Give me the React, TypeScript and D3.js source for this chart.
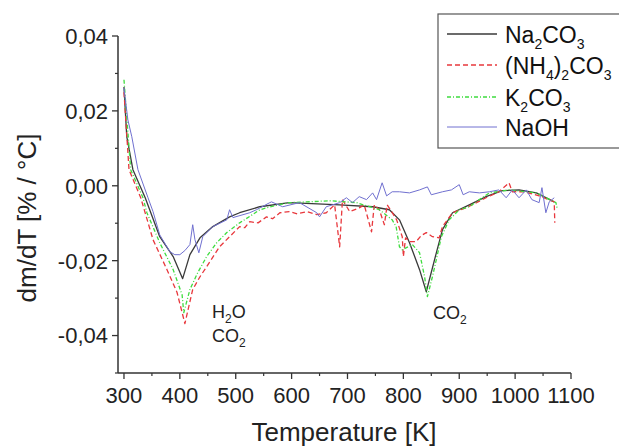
import React from "react";
import * as d3 from "d3";

const xTicks = [300, 400, 500, 600, 700, 800, 900, 1000, 1100];
const yTicks = [-0.04, -0.02, 0.0, 0.02, 0.04];
const yTickLabels = ["-0,04", "-0,02", "0,00", "0,02", "0,04"];
const seriesNames = ["Na2CO3", "(NH4)2CO3", "K2CO3", "NaOH"];
const seriesColors = ["#3a3a3a", "#e8383d", "#3fdc3f", "#7070d0"];

const na2co3: [number, number][] = [
  [300, 0.0264], [305, 0.0131], [316, 0.0043], [338, -0.0032], [364, -0.0136], [388, -0.0189],
  [405, -0.0248], [418, -0.0184], [436, -0.0139], [459, -0.0109], [489, -0.0083], [507, -0.0072],
  [543, -0.0056], [596, -0.0045], [686, -0.0051], [745, -0.0056], [775, -0.0064], [793, -0.0091],
  [811, -0.0152], [829, -0.0224], [841, -0.0283], [859, -0.0179], [870, -0.0117], [888, -0.0072],
  [918, -0.0051], [948, -0.0029], [977, -0.0013], [1007, -0.0011], [1038, -0.0019], [1070, -0.0043],
];

const nh4co3: [number, number][] = [
  [300, 0.025], [309, 0.0043], [330, -0.0032], [352, -0.0144], [377, -0.0224], [395, -0.0285],
  [409, -0.0368], [423, -0.0277], [436, -0.0243], [448, -0.0216], [471, -0.0163], [489, -0.0136],
  [507, -0.0109], [516, -0.0112], [525, -0.0096], [540, -0.0099], [555, -0.0083], [566, -0.0088],
  [579, -0.0072], [596, -0.0069], [610, -0.0075], [627, -0.0069], [645, -0.0077],
  [662, -0.0072], [677, -0.0051], [686, -0.0163], [691, -0.0037], [704, -0.0069], [721, -0.0059],
  [730, -0.0051], [743, -0.0123], [748, -0.0051], [757, -0.0064], [766, -0.0104], [771, -0.0051],
  [779, -0.0069], [788, -0.0091], [798, -0.0136], [800, -0.0189], [804, -0.0139], [811, -0.0149],
  [823, -0.0149], [832, -0.0133], [841, -0.0125], [852, -0.0136], [864, -0.0139], [870, -0.0109],
  [888, -0.0072], [912, -0.0059], [948, -0.0032], [971, -0.0016], [989, 0.0008], [995, -0.0016],
  [1016, -0.0016], [1043, -0.0027], [1070, -0.0043], [1071, -0.0099],
];

const k2co3: [number, number][] = [
  [300, 0.0283], [312, 0.0043], [334, -0.0032], [341, -0.0072], [364, -0.0152], [388, -0.0224],
  [404, -0.0291], [407, -0.0339], [418, -0.0277], [432, -0.0232], [448, -0.0189], [466, -0.0152],
  [484, -0.0125], [507, -0.0099], [530, -0.0077], [543, -0.0064], [570, -0.0053], [596, -0.0045],
  [627, -0.0043], [668, -0.004], [716, -0.0045], [757, -0.0064], [780, -0.0091], [787, -0.0109],
  [793, -0.0163], [798, -0.0171], [816, -0.0157], [829, -0.0179], [838, -0.0243], [843, -0.0296],
  [852, -0.0243], [859, -0.0197], [868, -0.0136], [882, -0.0091], [900, -0.0064], [918, -0.0056],
  [936, -0.0037], [954, -0.0019], [989, -0.0011], [1038, -0.0019], [1073, -0.0045], [1075, -0.0059],
];

const naoh: [number, number][] = [
  [300, 0.0261], [307, 0.0176], [314, 0.0131], [325, 0.0043], [343, -0.0032], [352, -0.0069],
  [364, -0.0131], [382, -0.0176], [391, -0.0184], [400, -0.0184], [409, -0.0173], [418, -0.0157],
  [423, -0.0104], [427, -0.0144], [434, -0.0179], [441, -0.0136], [459, -0.0109], [484, -0.0091],
  [489, -0.0064], [495, -0.0085], [525, -0.0072], [537, -0.0064], [561, -0.0045], [564, -0.0043],
  [584, -0.0056], [614, -0.0045], [645, -0.0072], [650, -0.0083], [662, -0.0056], [686, -0.0045],
  [698, -0.0032], [709, -0.0045], [721, -0.0029], [734, -0.0037], [745, -0.0019], [752, -0.0037],
  [762, 0.0008], [770, -0.0027], [780, -0.0016], [793, -0.0016], [811, -0.0019], [829, -0.0011],
  [843, -0.0003], [850, -0.0024], [870, -0.0016], [886, -0.0011], [900, 0.0003], [907, -0.0024],
  [918, -0.0016], [936, -0.0019], [954, -0.0016], [971, -0.0011], [984, -0.0032], [995, -0.0011],
  [1007, -0.0032], [1020, -0.0011], [1030, -0.0037], [1043, -0.0045], [1048, -0.0005], [1055, -0.0072],
  [1061, -0.0043], [1070, -0.0032],
];

const allSeries = [na2co3, nh4co3, k2co3, naoh];
const dashes = ["none", "5,3", "4,2,1,2", "none"];
const widths = [1.3, 1.3, 1.3, 1.0];

function Formula({ text, subSize, shift }: { text: string; subSize: number; shift: number }) {
  const parts: { t: string; sub: boolean }[] = [];
  for (const ch of text) {
    const sub = /[0-9]/.test(ch);
    const last = parts[parts.length - 1];
    if (last && last.sub === sub) last.t += ch;
    else parts.push({ t: ch, sub });
  }
  const out: React.ReactNode[] = [];
  let down = false;
  parts.forEach((p, i) => {
    let dy = 0;
    if (p.sub && !down) { dy = shift; down = true; }
    else if (!p.sub && down) { dy = -shift; down = false; }
    out.push(
      <tspan key={i} dy={dy} fontSize={p.sub ? subSize : undefined}>{p.t}</tspan>
    );
  });
  return <>{out}</>;
}

export default function App() {
  const x = d3.scaleLinear().domain([289.3, 1100]).range([118, 571]);
  const y = d3.scaleLinear().domain([-0.05, 0.04]).range([373, 36]);
  const line = d3.line<[number, number]>().x((d) => x(d[0])).y((d) => y(d[1]));
  const xMinor = d3.range(350, 1100, 100);
  const yMinor = [-0.05, -0.03, -0.01, 0.01, 0.03];
  const font = "Arial, 'Liberation Sans', Helvetica, sans-serif";
  const axisColor = "#333";
  const legendRows = [34, 65, 97, 127];

  return (
    <svg width={619} height={447} style={{ position: "absolute", left: 0, top: 0 }} fontFamily={font}>
      <rect width={619} height={447} fill="#fff" />
      {allSeries.map((s, i) => (
        <path key={i} d={line(s) || ""} fill="none" stroke={seriesColors[i]}
          strokeWidth={widths[i]} strokeDasharray={dashes[i]} strokeLinejoin="round" />
      ))}
      <line x1={118} x2={118} y1={36} y2={373} stroke={axisColor} strokeWidth={1.5} />
      <line x1={118} x2={571} y1={373} y2={373} stroke={axisColor} strokeWidth={1.5} />
      {yTicks.map((t, i) => (
        <g key={t}>
          <line x1={112} x2={118} y1={y(t)} y2={y(t)} stroke={axisColor} strokeWidth={1.3} />
          <text x={108} y={y(t)} dy="0.36em" textAnchor="end" fontSize={22} fill="#222">{yTickLabels[i]}</text>
        </g>
      ))}
      {yMinor.map((t) => (
        <line key={t} x1={115} x2={118} y1={y(t)} y2={y(t)} stroke={axisColor} strokeWidth={1.2} />
      ))}
      {xTicks.map((t) => (
        <g key={t}>
          <line x1={x(t)} x2={x(t)} y1={373} y2={379} stroke={axisColor} strokeWidth={1.3} />
          <text x={x(t)} y={403} textAnchor="middle" fontSize={22} fill="#222">{t}</text>
        </g>
      ))}
      {xMinor.map((t) => (
        <line key={t} x1={x(t)} x2={x(t)} y1={373} y2={376} stroke={axisColor} strokeWidth={1.2} />
      ))}
      <text x={344} y={441} textAnchor="middle" fontSize={26} fill="#222">Temperature [K]</text>
      <text transform="translate(36,218) rotate(-90)" textAnchor="middle" fontSize={26} fill="#222">dm/dT [% / °C]</text>
      <text x={212} y={318} fontSize={18} fill="#222"><Formula text="H2O" subSize={12} shift={5} /></text>
      <text x={212} y={342} fontSize={18} fill="#222"><Formula text="CO2" subSize={12} shift={5} /></text>
      <text x={433} y={319} fontSize={18} fill="#222"><Formula text="CO2" subSize={12} shift={5} /></text>
      <rect x={438} y={14} width={190} height={134} fill="#fff" stroke="#555" strokeWidth={1.2} />
      {seriesNames.map((n, i) => (
        <g key={n}>
          <line x1={447} x2={497} y1={legendRows[i]} y2={legendRows[i]} stroke={seriesColors[i]}
            strokeWidth={widths[i]} strokeDasharray={dashes[i]} />
          <text x={505} y={legendRows[i] + 9} fontSize={23} fill="#111">
            <Formula text={n} subSize={14} shift={6} />
          </text>
        </g>
      ))}
    </svg>
  );
}
